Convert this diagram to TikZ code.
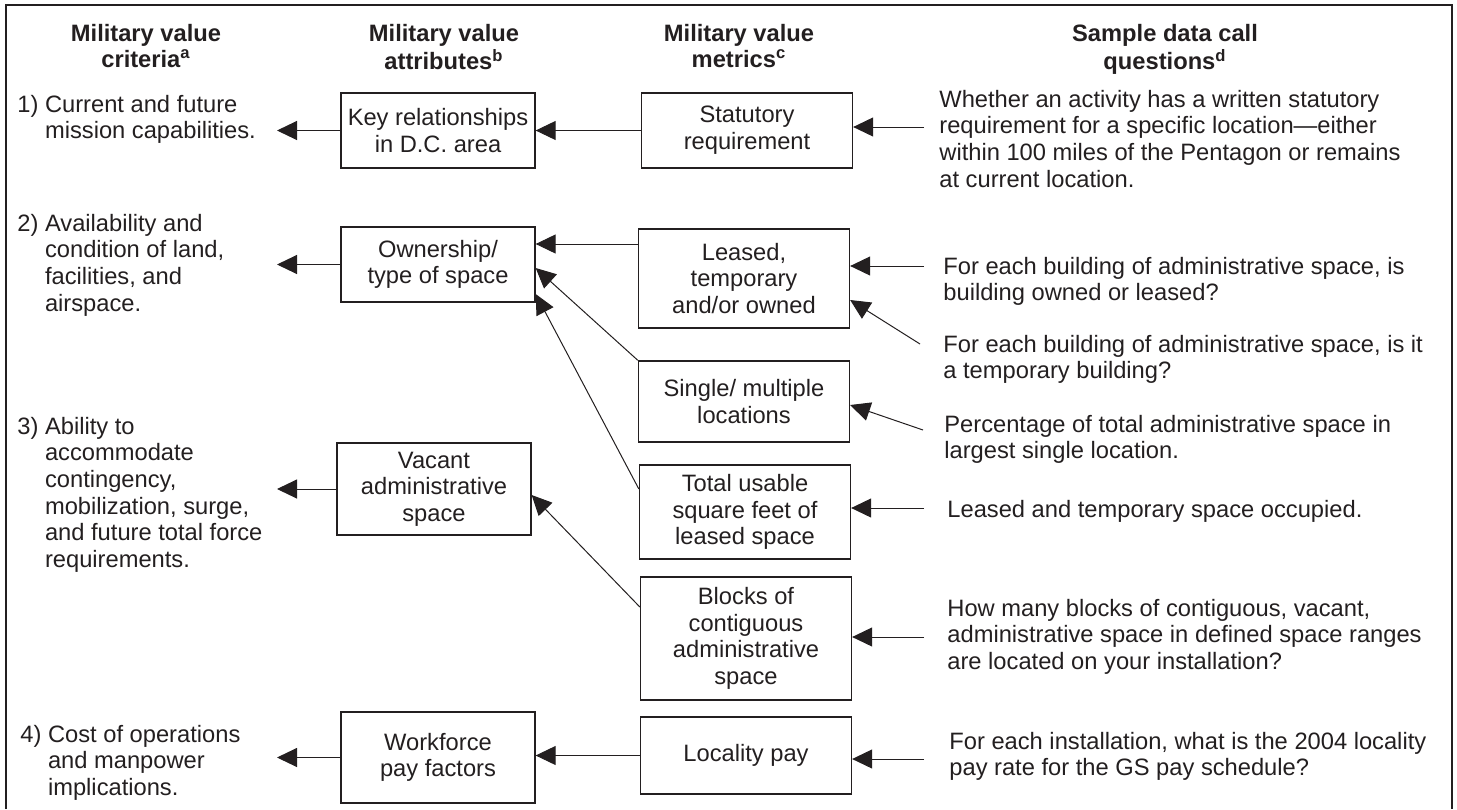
\documentclass[tikz,border=0pt]{standalone}
\usepackage{fontspec}
\setmainfont{Liberation Sans}
\usetikzlibrary{arrows.meta,calc}
\definecolor{ink}{HTML}{231F20}
\newcommand{\sz}{\fontsize{11.85}{13.35}\selectfont}
\tikzset{
  every node/.style={font=\sz,text=ink},
  box/.style={draw=ink,line width=0.65pt,align=center,inner sep=1pt},
  attr/.style={box,minimum width=97pt},
  metric/.style={box,minimum width=105.5pt},
  txt/.style={anchor=base west,inner sep=0pt},
  head/.style={anchor=base,inner sep=0pt,font=\sz\bfseries},
  arr/.style={draw=ink,line width=0.5pt,-{Triangle[length=10pt,width=9.5pt]}},
}
\begin{document}
\begin{tikzpicture}[x=0.5pt,y=-0.5pt]
\useasboundingbox (0,0) rectangle (1457,809);
\draw[ink,line width=0.7pt] (6,809) -- (6,5) -- (1452,5) -- (1452,809);
\node[head] (hcrit) at (146,41) {\begin{tabular}[t]{@{}c@{}}Military value\\criteria\textsuperscript{a}\end{tabular}};
\node[head] (hattr) at (444,41) {\begin{tabular}[t]{@{}c@{}}Military value\\attributes\textsuperscript{b}\end{tabular}};
\node[head] (hmetric) at (739,41) {\begin{tabular}[t]{@{}c@{}}Military value\\metrics\textsuperscript{c}\end{tabular}};
\node[head] (hquest) at (1165,41) {\begin{tabular}[t]{@{}c@{}}Sample data call\\questions\textsuperscript{d}\end{tabular}};
\node[txt] (crit1) at (17,112) {\begin{tabular}[t]{@{}l@{\ }l@{}}1)&Current and future\\&mission capabilities.\end{tabular}};
\node[txt] (crit2) at (17,231) {\begin{tabular}[t]{@{}l@{\ }l@{}}2)&Availability and\\&condition of land,\\&facilities, and\\&airspace.\end{tabular}};
\node[txt] (crit3) at (17,434) {\begin{tabular}[t]{@{}l@{\ }l@{}}3)&Ability to\\&accommodate\\&contingency,\\&mobilization, surge,\\&and future total force\\&requirements.\end{tabular}};
\node[txt] (crit4) at (20,742) {\begin{tabular}[t]{@{}l@{\ }l@{}}4)&Cost of operations\\&and manpower\\&implications.\end{tabular}};
\node[attr,minimum height=37.5pt] (key) at (438,130.5) {Key relationships\\in D.C. area};
\node[attr,minimum height=37.5pt] (own) at (438,264.5) {Ownership/\\type of space};
\node[attr,minimum height=46pt] (vac) at (434,489) {Vacant\\administrative\\space};
\node[attr,minimum height=45.5pt] (work) at (438,757.5) {Workforce\\pay factors};
\node[metric,minimum height=37.5pt] (stat) at (747,130.5) {Statutory\\requirement};
\node[metric,minimum height=49.5pt] (lease) at (744,278.5) {Leased,\\temporary\\and/or owned};
\node[metric,minimum height=40.5pt] (single) at (744,401.5) {Single/ multiple\\locations};
\node[metric,minimum height=47pt] (total) at (745,512) {Total usable\\square feet of\\leased space};
\node[metric,minimum height=61.5pt] (blocks) at (746,638.5) {Blocks of\\contiguous\\administrative\\space};
\node[metric,minimum height=38.5pt] (local) at (746,755.5) {Locality pay};
\node[txt] (q1) at (939,107) {\begin{tabular}[t]{@{}l@{}}Whether an activity has a written statutory\\requirement for a specific location—either\\within 100 miles of the Pentagon or remains\\at current location.\end{tabular}};
\node[txt] (q2) at (943,274) {\begin{tabular}[t]{@{}l@{}}For each building of administrative space, is\\building owned or leased?\end{tabular}};
\node[txt] (q3) at (943,352) {\begin{tabular}[t]{@{}l@{}}For each building of administrative space, is it\\a temporary building?\end{tabular}};
\node[txt] (q4) at (944,432) {\begin{tabular}[t]{@{}l@{}}Percentage of total administrative space in\\largest single location.\end{tabular}};
\node[txt] (q5) at (947,517) {Leased and temporary space occupied.};
\node[txt] (q6) at (947,616) {\begin{tabular}[t]{@{}l@{}}How many blocks of contiguous, vacant,\\administrative space in defined space ranges\\are located on your installation?\end{tabular}};
\node[txt] (q7) at (949,749) {\begin{tabular}[t]{@{}l@{}}For each installation, what is the 2004 locality\\pay rate for the GS pay schedule?\end{tabular}};
\coordinate (crit) at (277,0);
\foreach \b in {key,own,vac,work} \draw[arr] (\b.west) -- (\b.west -| crit);
\draw[arr] (stat.west) -- (key.east);
\draw[arr] (lease.west |- 0,244) -- (own.east |- 0,244);
\draw[arr] (single.north west) -- (own.east |- 0,268);
\draw[arr] (total.west |- 0,489) -- (own.east |- 0,294);
\draw[arr] (blocks.west |- 0,607) -- (vac.east |- 0,495);
\draw[arr] (local.west) -- (local.west -| work.east);
\foreach \n/\y/\m in {1/127/stat,2/266/lease,5/508/total,6/637/blocks,7/759/local}{
  \coordinate (s\n) at (924,\y);
  \draw[arr] (s\n) -- (s\n -| \m.east);
}
\coordinate (s3) at (920,344);
\draw[arr] (s3) -- (lease.east |- 0,300);
\coordinate (s4) at (923,430);
\draw[arr] (s4) -- (single.east |- 0,405);
\end{tikzpicture}
\end{document}
